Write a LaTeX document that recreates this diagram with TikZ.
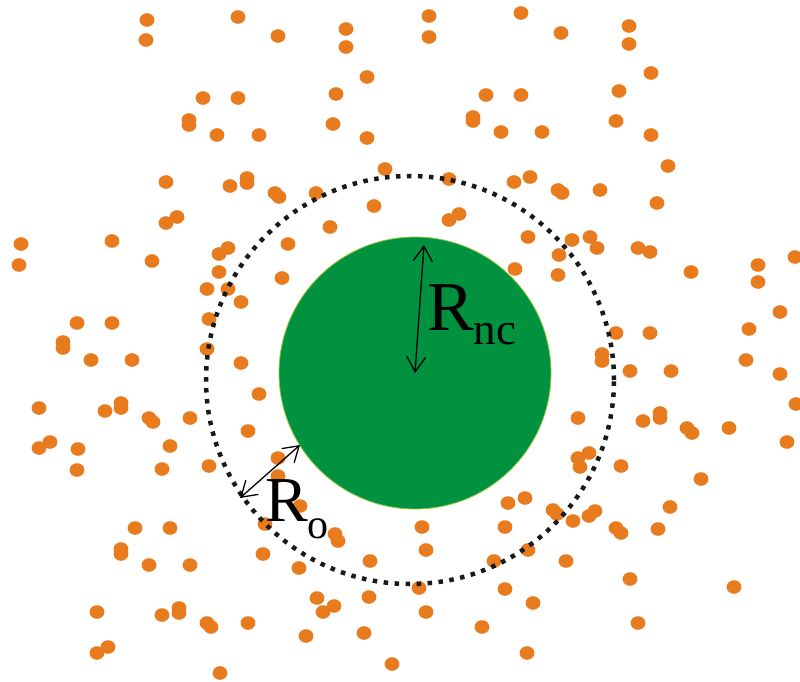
\documentclass[tikz,border=0pt]{standalone}
\usepackage{fontspec}
\setmainfont{Liberation Serif}
\usepackage{xcolor}
\usetikzlibrary{arrows.meta}
\definecolor{dotorange}{RGB}{232,123,30}
\definecolor{ncgreen}{RGB}{0,146,63}
\definecolor{ncrim}{RGB}{150,200,60}

\begin{document}
\begin{tikzpicture}[
    x=1pt, y=-1pt,
    particle/.style={fill=dotorange},
    core/.style={circle, fill=ncgreen, draw=ncrim, line width=0.8pt, inner sep=0pt},
    shell/.style={circle, draw=black!90, line width=4.5pt, dash pattern=on 4.5pt off 6.5pt, inner sep=0pt},
    arrow/.style={{Straight Barb[length=15pt,width=19pt]}-{Straight Barb[length=15pt,width=19pt]}, line width=1.3pt},
    radiuslabel/.style={inner sep=0pt, anchor=base west}
]
\useasboundingbox (0,0) rectangle (800,682);

% ── Particles ──
\foreach \x/\y in {147/20,238/17,146/40,203/98,238/98,189/120,189/125,217/135,259/135,
    166/182,230/186,247/178,247/183,177/217,166/223,21/244,19/265,112/241,152/261,
    228/248,219/254,219/272,207/289,228/289,241/302,209/319,77/323,112/323,63/342,63/348,
    278/36,346/29,346/47,429/16,429/37,521/13,367/77,336/94,333/124,367/138,486/95,
    521/95,473/117,473/121,501/132,385/169,449/179,514/182,530/177,275/193,279/197,
    316/193,374/206,330/227,449/220,459/214,288/244,282/278,528/237,515/269,
    561/33,629/26,629/44,651/73,619/91,616/121,651/135,542/132,668/166,558/190,562/193,
    600/190,657/203,572/240,590/237,597/248,559/255,558/275,638/248,650/252,691/272,
    758/265,758/282,795/257,780/312,749/329,616/333,650/333,
    91/360,132/360,207/349,241/363,39/408,105/411,121/403,121/408,149/418,153/422,
    190/418,259/394,248/431,39/448,50/442,78/449,77/470,170/446,162/469,209/466,
    265/524,135/528,170/528,121/549,121/554,149/565,190/565,263/554,97/612,162/615,
    179/608,179/613,207/623,211/627,248/623,97/653,108/647,220/673,
    278/458,278/476,300/506,335/534,338/541,299/568,370/561,422/527,426/550,419/588,
    508/503,525/498,505/527,494/561,528/550,505/589,533/603,317/598,323/612,334/606,
    369/597,426/612,306/636,364/633,482/627,527/653,392/664,
    602/354,602/361,630/371,671/371,746/360,780/374,796/404,578/418,643/421,660/413,
    660/418,687/428,692/433,729/428,787/442,578/458,580/467,589/453,621/466,701/479,
    553/510,557/514,573/521,589/516,595/511,670/507,616/528,621/533,658/529,566/561,
    630/579,734/587,638/623}
    \fill[particle] (\x,\y) ellipse (7.4 and 6.8);

% ── Nanocrystal and shell ──
\node[core, minimum size=272pt] (nc) at (415,373) {};
\node[shell, minimum size=408pt] (shell) at (410,380) {};

% ── Radii ──
\coordinate (centre) at (415,373);
\coordinate (nctop) at (424,245);
\coordinate (ncedge) at (300,445);
\coordinate (shelledge) at (240,498);

\draw[arrow] (centre) -- (nctop);
\draw[arrow] (shelledge) -- (ncedge);

\node[radiuslabel, font=\fontsize{70}{70}\selectfont] (rnc) at (427,330)
    {R\raisebox{-14pt}{\fontsize{45}{45}\selectfont nc}};
\node[radiuslabel, font=\fontsize{64}{64}\selectfont] (ro) at (265,521)
    {R\raisebox{-17pt}{\fontsize{42}{42}\selectfont o}};

\end{tikzpicture}
\end{document}
